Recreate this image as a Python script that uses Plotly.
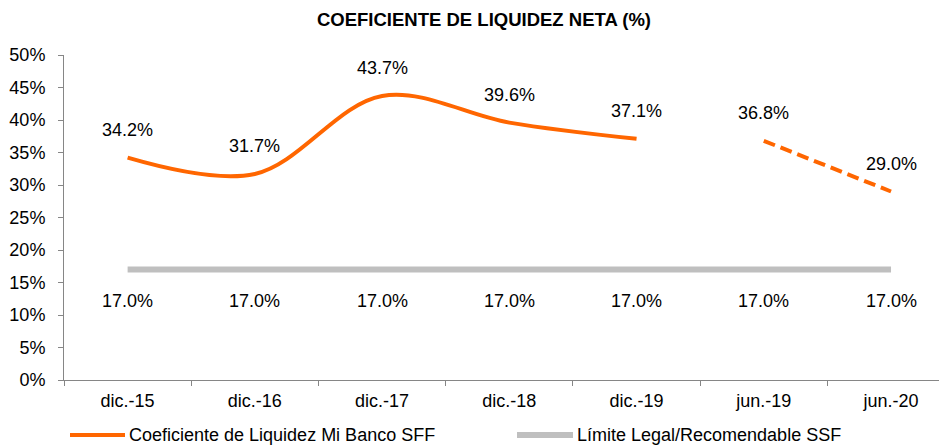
import plotly.graph_objects as go

categories = ["dic.-15", "dic.-16", "dic.-17", "dic.-18", "dic.-19", "jun.-19", "jun.-20"]
liquidez = [34.2, 31.7, 43.7, 39.6, 37.1, 36.8, 29.0]
limite = [17.0, 17.0, 17.0, 17.0, 17.0, 17.0, 17.0]
y_ticks = [0, 5, 10, 15, 20, 25, 30, 35, 40, 45, 50]
y_ticktext = [f"{v}%" for v in y_ticks]
series_names = ["Coeficiente de Liquidez Mi Banco SFF", "Límite Legal/Recomendable SSF"]

ORANGE = "#FF6600"
GRAY = "#BFBFBF"
FONT = "Liberation Sans, Arial, sans-serif"
FS = 18

# page body has an 8px margin, so the figure is drawn 8px smaller and offset
OFF = 8
W, H = 947 - OFF, 445 - OFF
PLOT_L, PLOT_T, PLOT_H = 64 - OFF, 55 - OFF, 325
PLOT_W = W - PLOT_L

fig = go.Figure()

fig.add_trace(go.Scatter(
    x=categories, y=limite, mode="lines",
    line=dict(color=GRAY, width=6),
    name=series_names[1], showlegend=False,
))
fig.add_trace(go.Scatter(
    x=categories[:5], y=liquidez[:5], mode="lines",
    line=dict(color=ORANGE, width=4, shape="spline", smoothing=1.0),
    name=series_names[0], showlegend=False,
))
fig.add_trace(go.Scatter(
    x=categories[5:], y=liquidez[5:], mode="lines",
    line=dict(color=ORANGE, width=4, dash="12px,6px"),
    name=series_names[0], showlegend=False,
))

annotations = []
for c, v in zip(categories, liquidez):
    annotations.append(dict(x=c, y=v, text=f"{v:.1f}%", showarrow=False,
                            yshift=28, font=dict(size=FS, color="#000000", family=FONT)))
for c, v in zip(categories, limite):
    annotations.append(dict(x=c, y=v, text=f"{v:.1f}%", showarrow=False,
                            yshift=-31, font=dict(size=FS, color="#000000", family=FONT)))

# manual legend (long line samples like the original)
shapes = []
legend_items = [(series_names[0], ORANGE, 4, 70 - OFF, 125 - OFF),
                (series_names[1], GRAY, 6, 517 - OFF, 573 - OFF)]
LEG_Y = 435 - OFF
ly = (PLOT_T + PLOT_H - LEG_Y) / PLOT_H
for name, col, w, x0, x1 in legend_items:
    shapes.append(dict(type="line", xref="paper", yref="paper",
                       x0=(x0 - PLOT_L) / PLOT_W, x1=(x1 - PLOT_L) / PLOT_W, y0=ly, y1=ly,
                       line=dict(color=col, width=w)))
    annotations.append(dict(xref="paper", yref="paper", x=(x1 + 2 - PLOT_L) / PLOT_W, y=ly,
                            xanchor="left", yanchor="middle", text=name, showarrow=False,
                            font=dict(size=FS, color="#000000", family=FONT)))

fig.update_layout(
    width=W, height=H,
    margin=dict(l=PLOT_L, r=0, t=PLOT_T, b=H - PLOT_T - PLOT_H, autoexpand=False),
    paper_bgcolor="white", plot_bgcolor="white",
    font=dict(family=FONT, size=FS, color="#000000"),
    title=dict(text="<b>COEFICIENTE DE LIQUIDEZ NETA (%)</b>", x=(484 - OFF) / W, xanchor="center",
               xref="container", y=1 - (20 - OFF) / H, yanchor="middle",
               font=dict(size=18.5, family=FONT, color="#000000")),
    showlegend=False,
    annotations=annotations,
    shapes=shapes,
)

fig.update_xaxes(
    type="category", categoryorder="array", categoryarray=categories,
    range=[-0.5, 6.44], showgrid=False, zeroline=False,
    showline=True, linecolor="#868686", linewidth=1,
    ticks="outside", ticklen=5, tickcolor="#868686", tickson="boundaries",
    ticklabelstandoff=4,
    tickfont=dict(size=FS, family=FONT, color="#000000"),
)
fig.update_yaxes(
    range=[0, 50], tickvals=y_ticks, ticktext=y_ticktext,
    showgrid=False, zeroline=False,
    showline=True, linecolor="#868686", linewidth=1,
    ticks="outside", ticklen=5, tickcolor="#868686",
    ticklabelstandoff=9,
    tickfont=dict(size=FS, family=FONT, color="#000000"),
)

fig.write_html("out.html")
